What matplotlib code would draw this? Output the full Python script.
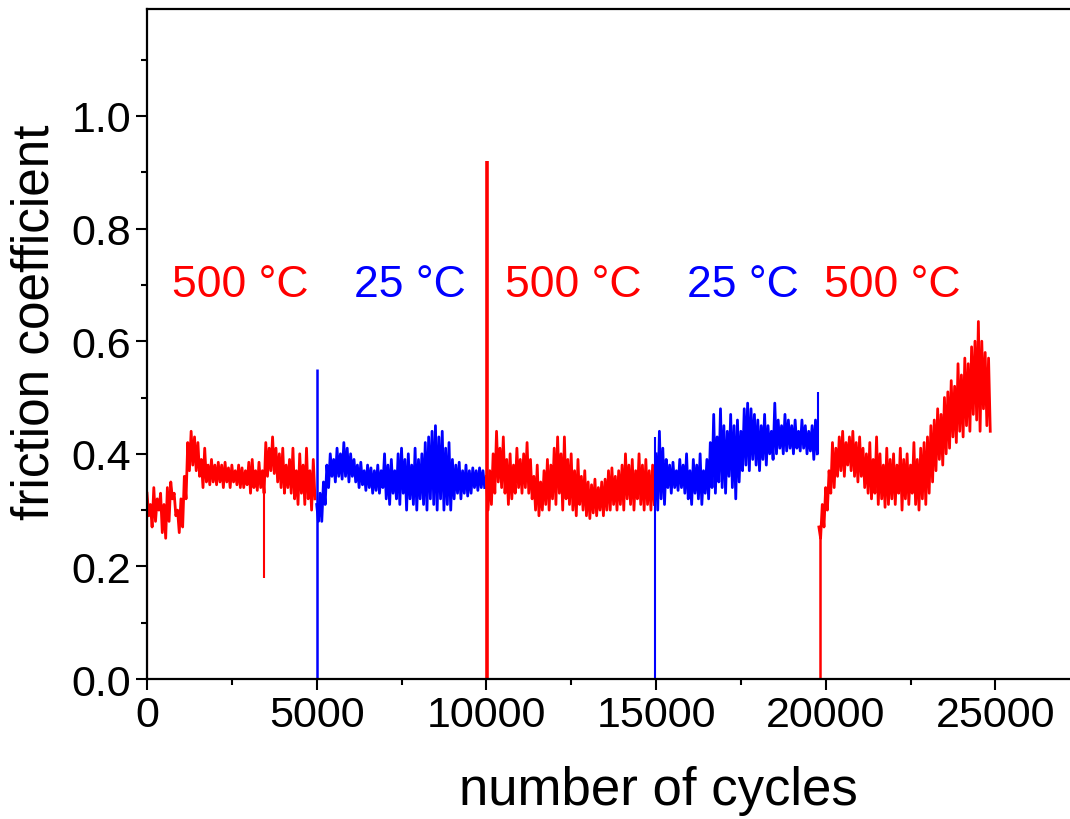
import numpy as np
import matplotlib
matplotlib.use("Agg")
import matplotlib.pyplot as plt
from matplotlib.ticker import MultipleLocator, FormatStrFormatter

plt.rcParams["font.family"] = ["Liberation Sans", "DejaVu Sans"]

# friction trace: upper / lower edge of the noisy trace,
# every 100 cycles; the trace swings between them (one swing per 50 cycles)
STEP = 100
seg_start = [0, 5000, 10000, 15000, 19800]
seg_color = ["red", "blue", "red", "blue", "red"]

top1 = [0.33, 0.31, 0.34, 0.32, 0.33, 0.31, 0.34, 0.35, 0.33, 0.30,
        0.32, 0.36, 0.42, 0.44, 0.43, 0.42, 0.39, 0.41, 0.38, 0.39,
        0.38, 0.385, 0.38, 0.385, 0.375, 0.38, 0.37, 0.38, 0.375, 0.37,
        0.385, 0.39, 0.37, 0.385, 0.37, 0.42, 0.41, 0.43, 0.41, 0.40,
        0.41, 0.38, 0.39, 0.41, 0.37, 0.40, 0.38, 0.41, 0.37, 0.39]
bot1 = [0.29, 0.27, 0.28, 0.30, 0.26, 0.25, 0.28, 0.32, 0.29, 0.26,
        0.27, 0.32, 0.37, 0.38, 0.37, 0.36, 0.34, 0.35, 0.345, 0.35,
        0.345, 0.35, 0.34, 0.35, 0.34, 0.35, 0.345, 0.34, 0.34, 0.345,
        0.33, 0.34, 0.335, 0.34, 0.33, 0.36, 0.37, 0.365, 0.35, 0.34,
        0.33, 0.34, 0.33, 0.32, 0.31, 0.33, 0.31, 0.32, 0.30, 0.32]

top2 = [0.31, 0.33, 0.35, 0.38, 0.40, 0.39, 0.41, 0.40, 0.42, 0.41,
        0.40, 0.39, 0.38, 0.385, 0.37, 0.38, 0.375, 0.37, 0.38, 0.37,
        0.40, 0.38, 0.39, 0.37, 0.40, 0.41, 0.39, 0.40, 0.38, 0.41,
        0.39, 0.40, 0.42, 0.43, 0.44, 0.45, 0.43, 0.44, 0.41, 0.42,
        0.39, 0.38, 0.385, 0.37, 0.38, 0.37, 0.375, 0.37, 0.375, 0.37]
bot2 = [0.28, 0.28, 0.31, 0.34, 0.36, 0.35, 0.36, 0.355, 0.36, 0.35,
        0.36, 0.35, 0.34, 0.345, 0.335, 0.34, 0.33, 0.335, 0.33, 0.34,
        0.32, 0.31, 0.33, 0.32, 0.31, 0.33, 0.30, 0.32, 0.31, 0.30,
        0.32, 0.31, 0.30, 0.32, 0.31, 0.30, 0.32, 0.30, 0.31, 0.30,
        0.32, 0.33, 0.32, 0.33, 0.325, 0.33, 0.34, 0.335, 0.34, 0.34]

top3 = [0.36, 0.37, 0.40, 0.44, 0.41, 0.43, 0.39, 0.40, 0.38, 0.41,
        0.39, 0.40, 0.42, 0.39, 0.36, 0.38, 0.35, 0.37, 0.39, 0.38,
        0.41, 0.43, 0.40, 0.43, 0.39, 0.40, 0.37, 0.39, 0.36, 0.37,
        0.35, 0.345, 0.355, 0.34, 0.35, 0.355, 0.37, 0.375, 0.36, 0.37,
        0.38, 0.40, 0.38, 0.39, 0.37, 0.40, 0.38, 0.39, 0.37, 0.38]
bot3 = [0.30, 0.31, 0.33, 0.35, 0.34, 0.33, 0.31, 0.32, 0.33, 0.34,
        0.33, 0.34, 0.33, 0.32, 0.30, 0.29, 0.30, 0.31, 0.30, 0.32,
        0.31, 0.33, 0.30, 0.32, 0.31, 0.30, 0.29, 0.31, 0.30, 0.29,
        0.285, 0.295, 0.29, 0.30, 0.29, 0.30, 0.30, 0.31, 0.30, 0.31,
        0.30, 0.32, 0.31, 0.30, 0.32, 0.31, 0.30, 0.31, 0.30, 0.31]

top4 = [0.40, 0.44, 0.41, 0.39, 0.38, 0.385, 0.37, 0.39, 0.38, 0.40,
        0.37, 0.39, 0.38, 0.40, 0.37, 0.39, 0.42, 0.47, 0.43, 0.48,
        0.45, 0.44, 0.47, 0.45, 0.46, 0.44, 0.48, 0.49, 0.48, 0.47,
        0.46, 0.45, 0.47, 0.45, 0.44, 0.49, 0.46, 0.45, 0.47, 0.46,
        0.45, 0.46, 0.44, 0.46, 0.45, 0.44, 0.45, 0.46]
bot4 = [0.30, 0.32, 0.31, 0.34, 0.33, 0.34, 0.335, 0.34, 0.33, 0.32,
        0.31, 0.33, 0.32, 0.31, 0.33, 0.32, 0.34, 0.33, 0.35, 0.34,
        0.33, 0.36, 0.34, 0.32, 0.35, 0.37, 0.38, 0.37, 0.39, 0.38,
        0.37, 0.39, 0.38, 0.40, 0.39, 0.40, 0.41, 0.40, 0.405, 0.41,
        0.40, 0.41, 0.405, 0.41, 0.40, 0.405, 0.39, 0.40]

top5 = [0.27, 0.31, 0.34, 0.37, 0.42, 0.41, 0.43, 0.44, 0.42, 0.43,
        0.44, 0.42, 0.43, 0.41, 0.40, 0.42, 0.39, 0.43, 0.40, 0.38,
        0.41, 0.39, 0.40, 0.38, 0.41, 0.39, 0.40, 0.38, 0.42, 0.39,
        0.41, 0.42, 0.43, 0.45, 0.46, 0.48, 0.47, 0.50, 0.51, 0.53,
        0.52, 0.56, 0.54, 0.57, 0.56, 0.59, 0.60, 0.635, 0.60, 0.58, 0.57]
bot5 = [0.25, 0.27, 0.30, 0.33, 0.34, 0.36, 0.37, 0.36, 0.38, 0.37,
        0.36, 0.35, 0.36, 0.34, 0.33, 0.32, 0.33, 0.31, 0.32, 0.305,
        0.31, 0.32, 0.31, 0.33, 0.30, 0.32, 0.31, 0.33, 0.31, 0.30,
        0.32, 0.31, 0.33, 0.35, 0.37, 0.39, 0.38, 0.40, 0.41, 0.43,
        0.42, 0.44, 0.43, 0.45, 0.44, 0.47, 0.46, 0.44, 0.48, 0.45, 0.44]

tops = [top1, top2, top3, top4, top5]
bots = [bot1, bot2, bot3, bot4, bot5]

# vertical jumps (restarts / glitches): cycle, low, high, colour
jump_x = [0, 3450, 5000, 10010, 14960, 19770, 19820]
jump_lo = [0.0, 0.18, 0.0, 0.0, 0.0, 0.40, 0.0]
jump_hi = [0.31, 0.36, 0.55, 0.92, 0.43, 0.51, 0.27]
jump_col = ["red", "red", "blue", "red", "blue", "blue", "red"]
jump_lw = [1.5, 1.5, 1.8, 2.6, 1.5, 1.5, 1.8]

labels = ["500 °C", "25 °C", "500 °C", "25 °C", "500 °C"]
label_x = [2750, 7750, 12550, 17550, 21950]

fig = plt.figure(figsize=(10.7, 8.2), dpi=100)
ax = fig.add_axes([0.1374, 0.1707, 0.8626, 0.8171])

for start, col, hi, lo in zip(seg_start, seg_color, tops, bots):
    ys = np.column_stack([hi, lo]).ravel()
    xs = start + STEP / 2 * np.arange(len(ys))
    ax.plot(xs, ys, color=col, lw=2.0)
for x, lo, hi, c, w in zip(jump_x, jump_lo, jump_hi, jump_col, jump_lw):
    ax.vlines(x, lo, hi, color=c, lw=w)

for t, x, c in zip(labels, label_x, seg_color):
    ax.text(x, 0.70, t, color=c, fontsize=32, ha="center", va="center")

ax.set_xlim(0, 27200)
ax.set_ylim(0, 1.19)
ax.xaxis.set_major_locator(MultipleLocator(5000))
ax.xaxis.set_minor_locator(MultipleLocator(2500))
ax.yaxis.set_major_locator(MultipleLocator(0.2))
ax.yaxis.set_minor_locator(MultipleLocator(0.1))
ax.yaxis.set_major_formatter(FormatStrFormatter("%.1f"))
ax.tick_params(which="major", length=8, width=1.5, labelsize=31, direction="out")
ax.tick_params(which="minor", length=4, width=1.5, direction="out")
ax.spines["right"].set_visible(False)
for s in ["left", "bottom", "top"]:
    ax.spines[s].set_linewidth(1.6)
ax.set_xlabel("number of cycles", fontsize=38)
ax.set_ylabel("friction coefficient", fontsize=37)
ax.xaxis.set_label_coords(0.554, -0.128)
ax.yaxis.set_label_coords(-0.095, 0.534)

fig.savefig("out.png", dpi=100)
